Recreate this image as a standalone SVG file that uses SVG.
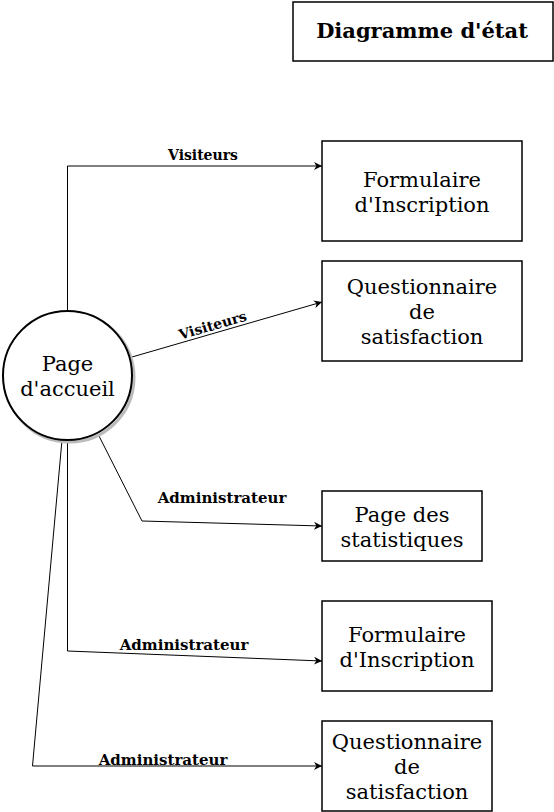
<svg xmlns="http://www.w3.org/2000/svg" width="554" height="812" viewBox="0 0 554 812">
<defs>
<marker id="arr" viewBox="0 0 10 10" refX="10" refY="5" markerWidth="8" markerHeight="8" markerUnits="userSpaceOnUse" orient="auto">
<path d="M0,0 L10,5 L0,10 L3,5 Z" fill="#000"/>
</marker>
</defs>
<style>
.box{fill:#fff;stroke:#000;stroke-width:1.5}
.t{font-family:"DejaVu Serif",serif;font-size:21px;fill:#000;text-anchor:middle}
.lbl{font-family:"DejaVu Serif",serif;font-size:14px;font-weight:bold;fill:#000;text-anchor:middle}
.adm{font-size:15px}
.e{fill:none;stroke:#000;stroke-width:1;marker-end:url(#arr)}
</style>
<rect width="554" height="812" fill="#fff"/>
<g id="title">
<rect class="box" x="293" y="2" width="260" height="59"/>
<text class="t" x="422" y="38" font-weight="bold">Diagramme d'état</text>
</g>
<g id="connectors">
<path class="e" d="M67.5,311 L67.5,166 L322,166"/>
<text class="lbl" x="203" y="160">Visiteurs</text>
<path class="e" d="M132,357 L322,302"/>
<text class="lbl" x="214" y="330" transform="rotate(-16.2 214 330)">Visiteurs</text>
<path class="e" d="M99,436 L142,521 L322,526"/>
<text class="lbl adm" x="222" y="502.5">Administrateur</text>
<path class="e" d="M67.5,440 L67.5,651 L322,661"/>
<text class="lbl adm" x="184" y="650">Administrateur</text>
<path class="e" d="M62,440 L32.5,766 L322,766"/>
<text class="lbl adm" x="163" y="765">Administrateur</text>
</g>
<g id="accueil">
<circle cx="69.5" cy="377.5" r="64.5" fill="none" stroke="#bbb" stroke-width="3"/>
<circle cx="67.5" cy="375.5" r="64.5" fill="#fff" stroke="#000" stroke-width="2"/>
<text class="t" x="67.5" y="371">Page</text>
<text class="t" x="67.5" y="396">d'accueil</text>
</g>
<g id="formulaire1">
<rect class="box" x="322" y="141" width="200" height="100"/>
<text class="t" x="422" y="186.5">Formulaire</text>
<text class="t" x="422" y="211.5">d'Inscription</text>
</g>
<g id="questionnaire1">
<rect class="box" x="322" y="261" width="200" height="100"/>
<text class="t" x="422" y="293.5">Questionnaire</text>
<text class="t" x="422" y="318.5">de</text>
<text class="t" x="422" y="343.5">satisfaction</text>
</g>
<g id="statistiques">
<rect class="box" x="322" y="491" width="160" height="70"/>
<text class="t" x="402" y="521.5">Page des</text>
<text class="t" x="402" y="546.5">statistiques</text>
</g>
<g id="formulaire2">
<rect class="box" x="322" y="601" width="170" height="90"/>
<text class="t" x="407" y="642">Formulaire</text>
<text class="t" x="407" y="667">d'Inscription</text>
</g>
<g id="questionnaire2">
<rect class="box" x="322" y="721" width="170" height="90"/>
<text class="t" x="407" y="748.5">Questionnaire</text>
<text class="t" x="407" y="773.5">de</text>
<text class="t" x="407" y="798.5">satisfaction</text>
</g>
</svg>
